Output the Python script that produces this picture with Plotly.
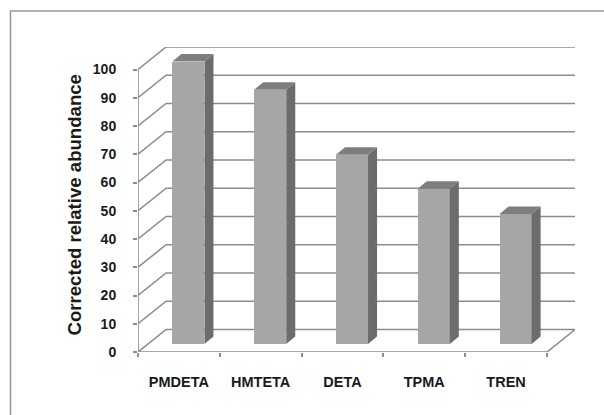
import plotly.graph_objects as go

# Data
categories = ["PMDETA", "HMTETA", "DETA", "TPMA", "TREN"]
abundance = [100, 90, 67, 55, 46]
y_ticks = list(range(0, 101, 10))

# Canvas / plot area (pixels)
W, H = 604, 415
L, R, T, B = 138, 575, 47, 352
PLOT_W, PLOT_H = R - L, B - T

# Pseudo-3D geometry: one category = CAT_PX pixels, value unit = scale from plot height
CAT_PX = 81.6
BACK_DX_PX, BACK_DY_PX = 28.0, 22.5      # back wall offset from front plane
BAR_DX_PX, BAR_DY_PX = 9.5, 8.0          # bar front face offset from front plane
DEPTH_DX_PX, DEPTH_DY_PX = 9.0, 7.5      # bar extrusion depth

PX_PER_UNIT = (PLOT_H - BACK_DY_PX) / 100.0
BACK_DX = BACK_DX_PX / CAT_PX
BACK_DY = BACK_DY_PX / PX_PER_UNIT
BAR_DX = BAR_DX_PX / CAT_PX
BAR_DY = BAR_DY_PX / PX_PER_UNIT
DEPTH_DX = DEPTH_DX_PX / CAT_PX
DEPTH_DY = DEPTH_DY_PX / PX_PER_UNIT
Y_MAX = 100 + BACK_DY
X_MIN, X_MAX = -0.5, len(categories) - 0.5 + BACK_DX
BAR_W = 32 / CAT_PX

GRID = "#8c8c8c"
FRONT = "#a6a6a6"
SIDE = "#6c6c6c"
TOP = "#7e7e7e"
TEXT = "#1a1a1a"
FONT = "Liberation Sans, Arial, sans-serif"

fig = go.Figure()

# Walls: gridlines on the back wall plus diagonals on the left side wall
gx, gy = [], []
for v in y_ticks:
    gx += [X_MIN, X_MIN + BACK_DX, X_MAX, None]
    gy += [v, v + BACK_DY, v + BACK_DY, None]
# floor front edge and right diagonal
n = len(categories)
gx += [X_MIN, n - 0.5, n - 0.5 + BACK_DX, None]
gy += [0, 0, BACK_DY, None]
# vertical value axis on the front plane
gx += [X_MIN, X_MIN, None]
gy += [0, 100, None]
fig.add_trace(go.Scatter(x=gx, y=gy, mode="lines", line=dict(color=GRID, width=1.6),
                         hoverinfo="skip", showlegend=False, xaxis="x", yaxis="y",
                         cliponaxis=False))

# Bars (front faces) on the bar plane, with side and top faces
idx = list(range(n))
hw = BAR_W / 2
for i, v in zip(idx, abundance):
    # right side face
    fig.add_trace(go.Scatter(
        x=[i + hw, i + hw + DEPTH_DX, i + hw + DEPTH_DX, i + hw, i + hw],
        y=[0, DEPTH_DY, v + DEPTH_DY, v, 0],
        mode="lines", fill="toself", fillcolor=SIDE, line=dict(width=0, color=SIDE),
        hoverinfo="skip", showlegend=False, xaxis="x2", yaxis="y2"))
    # top face
    fig.add_trace(go.Scatter(
        x=[i - hw, i - hw + DEPTH_DX, i + hw + DEPTH_DX, i + hw, i - hw],
        y=[v, v + DEPTH_DY, v + DEPTH_DY, v, v],
        mode="lines", fill="toself", fillcolor=TOP, line=dict(width=0, color=TOP),
        hoverinfo="skip", showlegend=False, xaxis="x2", yaxis="y2"))
fig.add_trace(go.Bar(x=idx, y=abundance, width=BAR_W, marker=dict(color=FRONT, line=dict(width=0)),
                     showlegend=False, xaxis="x2", yaxis="y2"))

fig.update_layout(
    width=W, height=H, autosize=False,
    margin=dict(l=L, r=W - R, t=T, b=H - B, pad=0),
    paper_bgcolor="white", plot_bgcolor="rgba(0,0,0,0)",
    font=dict(family=FONT, color=TEXT),
    bargap=0,
    xaxis=dict(range=[X_MIN, X_MAX], tickvals=idx, ticktext=categories, ticks="",
               showgrid=False, zeroline=False, showline=False, automargin=False,
               tickfont=dict(size=14.5, family=FONT, color=TEXT, weight="bold"),
               ticklabelstandoff=19),
    yaxis=dict(range=[0, Y_MAX], tickvals=y_ticks, ticks="outside", ticklen=4,
               tickcolor=GRID, tickwidth=1.5, showgrid=False, zeroline=False,
               showline=False, automargin=False, ticklabelstandoff=14,
               tickfont=dict(size=14, family=FONT, color=TEXT, weight="bold")),
    xaxis2=dict(range=[X_MIN - BAR_DX, X_MAX - BAR_DX], overlaying="x", anchor="y2",
                tickvals=[k - 0.5 - BAR_DX for k in range(n + 1)], ticks="outside",
                ticklen=4, tickcolor=GRID, tickwidth=1.5, showticklabels=False,
                showgrid=False, zeroline=False, showline=False),
    yaxis2=dict(range=[-BAR_DY, Y_MAX - BAR_DY], overlaying="y", anchor="x2",
                visible=False),
    shapes=[dict(type="rect", xref="paper", yref="paper",
                 x0=(10.5 - L) / PLOT_W, x1=(620 - L) / PLOT_W,
                 y0=(B - 430) / PLOT_H, y1=(B - 11) / PLOT_H,
                 line=dict(color="#9a9a9a", width=1.6), layer="below")],
    annotations=[dict(text="<b>Corrected relative abundance</b>", textangle=-90,
                      xref="paper", yref="paper", x=(61 - L) / PLOT_W, y=(B - 205) / PLOT_H,
                      showarrow=False, font=dict(size=18.6, family=FONT, color=TEXT))],
)

fig.write_html("out.html")
